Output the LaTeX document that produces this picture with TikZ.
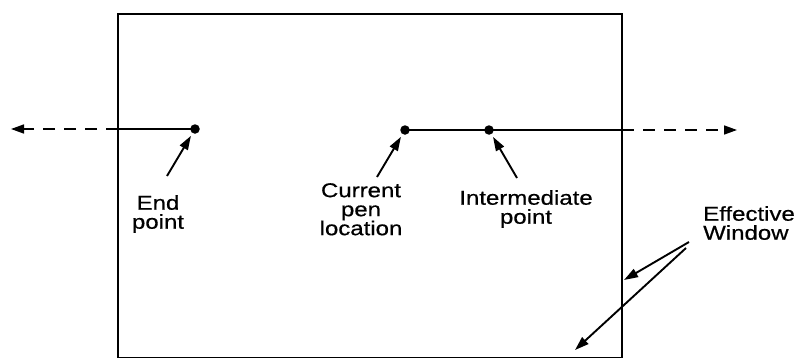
\documentclass[tikz,border=0pt]{standalone}
\usepackage{fontspec}
\setmainfont{Liberation Sans}[FakeStretch=1.2,FakeBold=0.6]
\usetikzlibrary{arrows.meta}
\begin{document}
\begin{tikzpicture}[x=1pt,y=-1pt,
  dot/.style={circle,fill=black,inner sep=0pt,minimum size=9.5pt},
  lbl/.style={align=center,font=\fontsize{20}{19}\selectfont,inner sep=0pt,anchor=north},
  win/.style={line width=1.9pt},
  solidline/.style={line width=2pt},
  dashline/.style={line width=1.6pt,dash pattern=on 12pt off 9pt,-{Triangle[length=13pt,width=9pt]}},
  pointer/.style={line width=1.9pt,-{Triangle[length=14pt,width=9pt]},shorten >=3pt}]
\useasboundingbox (0,0) rectangle (797,359);
% window
\draw[win] (118,14) rectangle (622,357.5);
% points
\node[dot] (endp) at (195,129) {};
\node[dot] (cur) at (405,130) {};
\node[dot] (inter) at (489,130) {};
\coordinate (lefttip) at (11,129);
\coordinate (leftedge) at (118,129);
\coordinate (rightedge) at (622,130);
\coordinate (righttip) at (737,130);
% lines
\draw[solidline] (leftedge) -- (endp.center);
\draw[dashline] (leftedge) -- (lefttip);
\draw[solidline] (cur.center) -- (inter.center) -- (rightedge);
\draw[dashline] (rightedge) -- (righttip);
% labels
\node[lbl] (endl) at (158,195) {End\\point};
\node[lbl] (curl) at (361,183) {Current\\pen\\location};
\node[lbl] (interl) at (526,190) {Intermediate\\point};
\node[lbl,align=left,anchor=north west] (winl) at (703,206) {Effective\\Window};
% pointers
\coordinate (e0) at (167,176);
\coordinate (c0) at (377,177);
\coordinate (i0) at (517,178);
\coordinate (w1) at (689,242);
\coordinate (w2) at (686,248);
\coordinate (wa) at (624,280);
\coordinate (wb) at (575,350);
\draw[pointer] (e0) -- (endp);
\draw[pointer] (c0) -- (cur);
\draw[pointer] (i0) -- (inter);
\draw[pointer,shorten >=0pt] (w1) -- (wa);
\draw[pointer,shorten >=0pt] (w2) -- (wb);
\end{tikzpicture}
\end{document}
